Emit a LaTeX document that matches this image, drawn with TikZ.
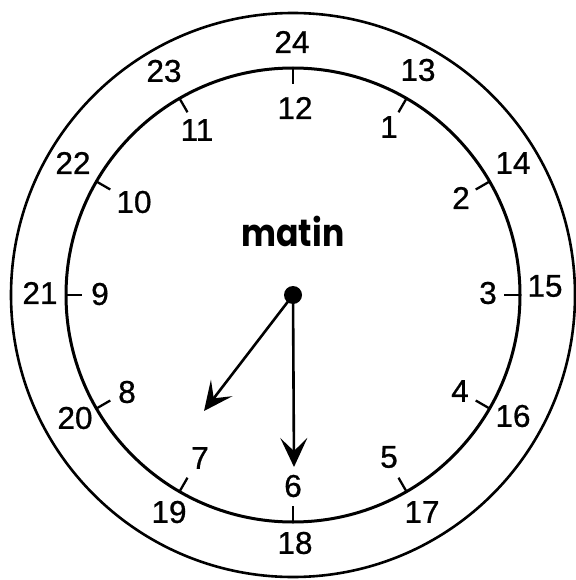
\documentclass[tikz,border=0pt]{standalone}
\usepackage{fontspec}
\setmainfont{Liberation Sans}
\newfontfamily\numfont{Liberation Sans}[FakeBold=0.8]
\newfontfamily\matinfont{Poppins}
\usetikzlibrary{arrows.meta}
\begin{document}
\begin{tikzpicture}[x=1pt,y=-1pt,
  num/.style={font=\numfont\fontsize{31.5}{31.5}\selectfont, inner sep=0pt},
  ring/.style={line width=2.6pt},
  tick/.style={line width=2.3pt},
  hand/.style={line width=2.6pt, -{Stealth[length=29pt,width=27pt,inset=13pt]}}]
\useasboundingbox (0,0) rectangle (575,580);
\coordinate (c) at (293,295);
\draw[ring] (c) circle[radius=282];
\draw[ring, line width=3pt] (c) circle[radius=227];
\foreach \a in {0,30,...,330}
  \draw[tick] ([shift={(\a:227)}]c) -- ([shift={(\a:211)}]c);
% inner numbers
\node[num] (h12) at (295,108) {12};
\node[num] (h1) at (389,127) {1};
\node[num] (h2) at (461,198) {2};
\node[num] (h3) at (488,293) {3};
\node[num] (h4) at (460,391) {4};
\node[num] (h5) at (389,457) {5};
\node[num] (h6) at (293,486) {6};
\node[num] (h7) at (200,458) {7};
\node[num] (h8) at (127,392) {8};
\node[num] (h9) at (100,294) {9};
\node[num] (h10) at (134,202) {10};
\node[num] (h11) at (197,130) {11};
% outer numbers
\node[num] (h24) at (292,42) {24};
\node[num] (h13) at (418,70) {13};
\node[num] (h14) at (513,163) {14};
\node[num] (h15) at (545,286) {15};
\node[num] (h16) at (513,416) {16};
\node[num] (h17) at (422,512) {17};
\node[num] (h18) at (295,543) {18};
\node[num] (h19) at (169,512) {19};
\node[num] (h20) at (75,418) {20};
\node[num] (h21) at (40,293) {21};
\node[num] (h22) at (73,163) {22};
\node[num] (h23) at (164,71) {23};
\node[font=\matinfont\bfseries\fontsize{33}{33}\selectfont, inner sep=0pt, yscale=1.15] (matin) at (293,231) {matin};
% hands
\coordinate (mtip) at (294,467);
\coordinate (htip) at (204,411);
\draw[hand] (c) -- (htip);
\draw[hand] (c) -- (mtip);
\node[circle, fill, minimum size=18pt, inner sep=0pt] (dot) at (c) {};
\end{tikzpicture}
\end{document}
